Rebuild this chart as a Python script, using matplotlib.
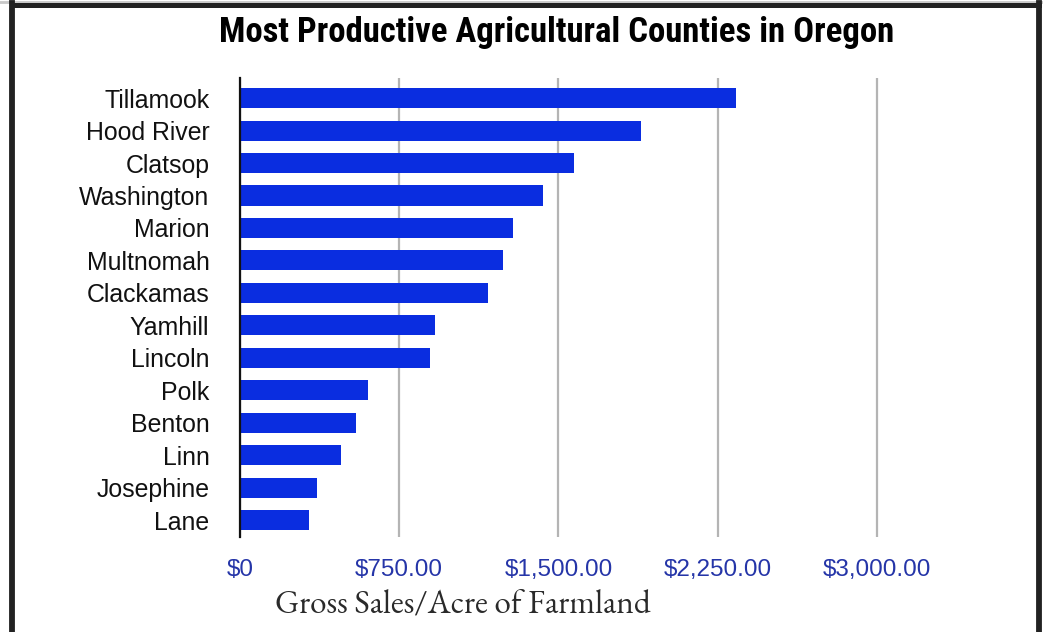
import matplotlib
matplotlib.use("Agg")
import matplotlib.pyplot as plt
from matplotlib import font_manager
from matplotlib.lines import Line2D
from matplotlib.ticker import FuncFormatter

# County gross sales per acre of farmland (USD)
counties = ["Tillamook", "Hood River", "Clatsop", "Washington", "Marion",
            "Multnomah", "Clackamas", "Yamhill", "Lincoln", "Polk",
            "Benton", "Linn", "Josephine", "Lane"]
sales_per_acre = [2336, 1888, 1573, 1427, 1286, 1239, 1168, 918, 895,
                  603, 546, 476, 363, 325]
x_ticks = [0, 750, 1500, 2250, 3000]

available = {f.name for f in font_manager.fontManager.ttflist}


def pick(*families):
    for fam in families:
        if fam in available:
            return fam
    return "DejaVu Sans"


sans = pick("Liberation Sans", "DejaVu Sans")
condensed = pick("Roboto Condensed", "Liberation Sans")
serif = pick("EB Garamond", "Cormorant Garamond", "Liberation Serif", "DejaVu Serif")

BAR = "#0a2de0"
TICK = "#2535a8"

fig = plt.figure(figsize=(10.43, 6.32), dpi=100)
ax = fig.add_axes([240 / 1043, 95 / 632, 743 / 1043, 459 / 632])

y = list(range(len(counties)))
ax.barh(y, sales_per_acre, height=0.62, color=BAR, zorder=3)

ax.set_xlim(0, 3500)
ax.set_ylim(len(counties) - 1 + 0.52, -0.62)
ax.set_xticks(x_ticks)
ax.xaxis.set_major_formatter(FuncFormatter(
    lambda v, p: "$0" if v == 0 else f"${v:,.2f}"))
ax.set_yticks(y)
ax.set_yticklabels(counties)

ax.grid(axis="x", color="#b4b4b4", linewidth=1.6, zorder=1)
for s in ["top", "right", "bottom"]:
    ax.spines[s].set_visible(False)
ax.spines["left"].set_color("#111111")
ax.spines["left"].set_linewidth(1.6)
ax.spines["left"].set_zorder(4)
ax.tick_params(axis="both", length=0)
ax.tick_params(axis="x", pad=16, labelcolor=TICK, labelsize=17.5)
ax.tick_params(axis="y", pad=22, labelcolor="#111111", labelsize=17.9)
for lab in ax.get_xticklabels() + ax.get_yticklabels():
    lab.set_fontfamily(sans)

ax.set_xlabel("Gross Sales/Acre of Farmland", family=serif, fontsize=23.8,
              color="#2a2a2a")
ax.xaxis.set_label_coords((463 - 240) / 743, -(606 - 537) / 459)
ax.xaxis.label.set_va("center")

fig.text(557 / 1043, 1 - 32.5 / 632, "Most Productive Agricultural Counties in Oregon",
         ha="center", va="center", family=condensed, fontweight="bold",
         fontsize=25, color="#000000")

# Outer frame: top, left and right borders
W, H = 1043, 632
fig.add_artist(Line2D([0, 1], [1 - 1.5 / H] * 2, color="#c8c8c8", linewidth=2,
                      transform=fig.transFigure))
fig.add_artist(Line2D([12 / W, 1038.5 / W], [1 - 5 / H] * 2, color="#222222",
                      linewidth=3.6, transform=fig.transFigure))
fig.add_artist(Line2D([12 / W] * 2, [0, 1 - 3 / H], color="#222222",
                      linewidth=4.2, transform=fig.transFigure))
fig.add_artist(Line2D([1038.5 / W] * 2, [0, 1 - 3 / H], color="#222222",
                      linewidth=4.2, transform=fig.transFigure))

fig.savefig("out.png", dpi=100)
